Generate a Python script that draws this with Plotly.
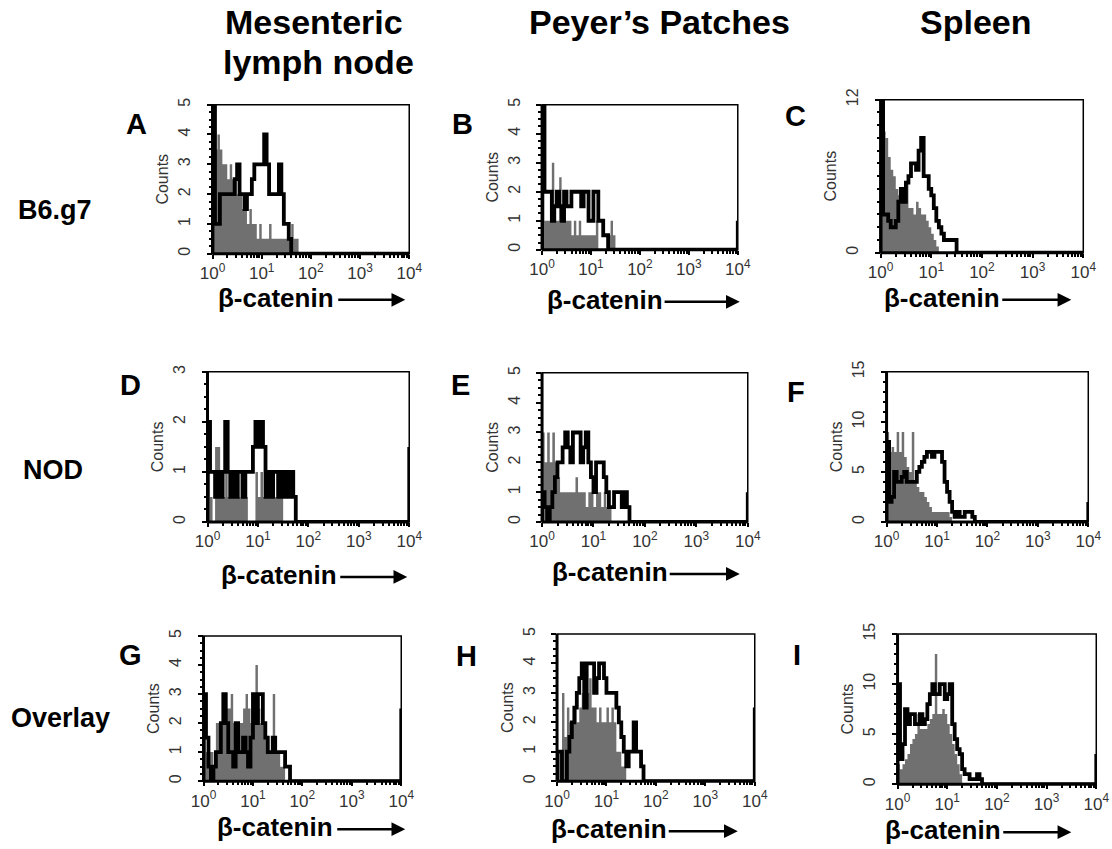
import numpy as np
import plotly.graph_objects as go

W, H = 1112, 849
BIN_DECADES = 0.05  # width of one histogram bin, in decades of fluorescence

# ---- histogram counts per bin, starting at 10^0 (gray = filled, black = outline) ----
A_gray = [4, 3.5, 4, 3.5, 3, 3, 2.5, 3, 2.5, 2.5, 2, 2, 1.5, 2, 1, 1.5, 1, 1, 0.5, 1, 0.5, 0.5,
          0.5, 1, 0.5, 0.5, 0.5, 0.5, 0.5, 0.5, 0.5, 0.5, 1, 0.5, 0.5]
A_black = [5, 1, 1, 2, 2, 2, 2, 2, 2, 2.5, 3, 2, 2, 1.5, 2, 2, 2.5, 3, 3, 3, 3, 4, 3, 2, 2, 2, 2,
           3, 2, 1, 1, 0.5]
B_gray = [3.5, 1, 1, 1, 3, 1, 1, 2.5, 1, 1, 1, 1, 0.5, 1, 0.5, 1, 0.5, 0.5, 0.5, 0.5, 0.5, 0.5,
          1, 0, 0, 0, 0, 0.5, 1, 0.5]
B_black = [5, 2, 2, 2, 1, 1.5, 2, 1.5, 1, 2, 1.5, 1.5, 2, 2, 2, 2, 1.5, 2, 2, 1, 1, 2, 2, 1, 1,
           0.5, 0.5]
C_gray = [10, 9.5, 9, 7.5, 6.5, 6, 5, 4.5, 4.5, 4, 5.5, 3.5, 3.5, 3, 4, 3.5, 3, 3, 2.5, 2, 1.5,
          1, 0.5]
C_black = [12, 3, 3, 2.5, 2, 2, 2.5, 4, 5, 4, 5.5, 6, 7, 7, 6.5, 8, 9, 6, 6, 5, 4.5, 3.5, 2.5,
           2, 1.5, 1, 1, 1, 1, 1]
D_gray = [1, 0.5, 0, 1.5, 1.5, 1, 0.5, 1, 0.5, 1, 0.5, 1, 0.5, 1, 1, 0.5, 0, 0, 0, 1, 0.5, 1,
          0.5, 1, 0.5, 0.5, 0.5, 0.5, 1, 0.5]
D_black = [2, 1, 1, 0.5, 1, 0.5, 1, 2, 1, 0.5, 1, 0.5, 1, 1, 0.5, 1, 1, 1, 1.5, 2, 1.5, 2, 1.5,
           0.5, 1, 0.5, 1, 1, 0.5, 1, 0.5, 1, 0.5, 1, 0.5]
E_gray = [3, 2, 3, 2, 3, 2, 1.5, 1, 1, 1, 1, 1, 1, 1.5, 1, 1, 1, 0.5, 1, 1, 0.5, 1, 1, 0.5, 1,
          0.5, 0.5]
E_black = [1, 0.5, 0, 0.5, 1, 1.5, 2, 2, 2.5, 3, 2.5, 2, 3, 3, 3, 2, 2.5, 3, 2, 1.5, 1, 2, 2, 2,
           1.5, 1, 0.5, 0.5, 1, 1, 1, 0.5, 1, 0.5]
F_gray = [9, 7, 7.5, 7, 9, 7, 9, 6.5, 5.5, 5, 9, 4, 3.5, 3, 3, 2.5, 2, 1.5, 1, 1, 1, 1, 1, 1, 1,
          0.5]
F_black = [8, 2, 2.5, 5, 4, 4, 4.5, 5, 4, 4, 4, 4, 5, 5.5, 6, 6.5, 7, 7, 6.5, 7, 7, 7, 6, 4, 3,
           2, 1, 0.5, 1, 0.5, 0.5, 1, 1, 1, 0.5]
G_gray = [1.5, 1, 1, 1, 0.5, 2, 2, 2, 2, 2.5, 2.5, 3, 2, 1.5, 2, 2, 2.5, 3, 2.5, 2, 2.5, 4, 2.5,
          2, 2, 1.5, 1, 1, 3, 1, 1, 0.5, 0.5]
G_black = [3, 1.5, 0.5, 0, 0.5, 1, 1, 2, 3, 2, 1, 1, 0.5, 2, 1, 1, 1.5, 1, 0.5, 1.5, 3, 2, 3, 3,
           2, 1.5, 1, 1, 1.5, 1, 1, 1, 1, 0.5, 0.5]
H_gray = [1, 1, 3, 1.5, 2.5, 2, 2, 2.5, 2, 2.5, 3, 2.5, 3, 3.5, 2.5, 2.5, 2, 2.5, 2, 2, 2.5, 2,
          2.5, 2, 1, 1, 0.5, 0.5]
H_black = [1, 1, 0, 0, 1, 1.5, 2, 2.5, 3, 3.5, 4, 2.5, 4, 4, 4, 3, 3.5, 4, 4, 3.5, 3, 3, 3, 3,
           2.5, 2, 1.5, 1, 0.5, 1, 1, 2, 1, 1, 0.5]
I_gray = [2, 1.5, 2, 2.5, 3, 4, 4.5, 5, 7, 5.5, 5.5, 5.5, 6, 6.5, 7, 13, 7, 7, 7.5, 7, 6, 5, 4,
          3, 2, 1]
I_black = [10, 2.5, 4, 7.5, 6, 7, 7, 6, 6, 7, 6, 6.5, 8, 9, 10, 9, 9, 10, 10, 8.5, 9, 10, 6, 4.5,
           3.5, 3, 1.5, 1, 1, 0.5, 0.5, 0.5, 1, 0.5]

# counts piled in the last channel (10^4)
EDGE_COUNTS = {"A": 0, "B": 1, "C": 0, "D": 1.5, "E": 1, "F": 2, "G": 2.5, "H": 2.5, "I": 3}
Y_MAX = {"A": 5, "B": 5, "C": 12, "D": 3, "E": 5, "F": 15, "G": 5, "H": 5, "I": 15}
Y_TICKS = {"A": [0, 1, 2, 3, 4, 5], "B": [0, 1, 2, 3, 4, 5], "C": [0, 12], "D": [0, 1, 2, 3],
           "E": [0, 1, 2, 3, 4, 5], "F": [0, 5, 10, 15], "G": [0, 1, 2, 3, 4, 5],
           "H": [0, 1, 2, 3, 4, 5], "I": [0, 5, 10, 15]}
X_TICKS = [1, 10, 100, 1000, 10000]
X_TICKTEXT = ["10<sup>0</sup>", "10<sup>1</sup>", "10<sup>2</sup>", "10<sup>3</sup>", "10<sup>4</sup>"]
COL_TITLES = ["Mesenteric", "lymph node", "Peyer\u2019s Patches", "Spleen"]
ROW_TITLES = ["B6.g7", "NOD", "Overlay"]
X_LABEL = "\u03b2-catenin"

SERIES = {"A": (A_gray, A_black), "B": (B_gray, B_black), "C": (C_gray, C_black),
          "D": (D_gray, D_black), "E": (E_gray, E_black), "F": (F_gray, F_black),
          "G": (G_gray, G_black), "H": (H_gray, H_black), "I": (I_gray, I_black)}

# ---- layout (target pixel boxes: left, top, right, bottom) ----
BOX = {"A": (212, 105, 409, 254), "B": (542, 105, 738, 250), "C": (881, 100, 1084, 253),
       "D": (207, 372, 409, 522), "E": (542, 373, 748, 522), "F": (887, 372, 1089, 522),
       "G": (203, 636, 401, 781), "H": (557, 634, 755, 781), "I": (898, 634, 1097, 784)}
LETTER_POS = {"A": (136, 124), "B": (462, 124), "C": (796, 116), "D": (130, 385),
              "E": (460, 385), "F": (796, 392), "G": (130, 655), "H": (466, 656), "I": (797, 655)}
XLABEL_POS = {"A": (276, 298, 338, 405), "B": (605, 300, 665, 740), "C": (943, 298, 1003, 1072),
              "D": (279, 575, 340, 407), "E": (610, 572, 670, 740),
              "G": (275, 827, 337, 405), "H": (609, 829, 669, 738), "I": (944, 830, 1004, 1072)}
COL_POS = [(314, 22), (318, 62), (660, 22), (976, 22)]
ROW_POS = [(54, 210), (52, 470), (60, 718)]

# the photographed page shows the figure slightly scaled/offset; map target pixels accordingly
SX, OX, SY, OY = 0.978, 12.2, 0.984, 11.4

FONT = "Liberation Sans, Arial, sans-serif"
GRAY = "#707070"


def px(x):
    return ((x - OX) / SX) / W


def py(y):
    return 1 - ((y - OY) / SY) / H


fig = go.Figure()
shapes = []
annotations = []


def steps(counts):
    edges = [10 ** (BIN_DECADES * i) for i in range(len(counts) + 1)]
    return [1.0] + edges, [0] + list(counts) + [0]


for k, name in enumerate("ABCDEFGHI"):
    idx = "" if k == 0 else str(k + 1)
    xa, ya = "x" + idx, "y" + idx
    gray, black = SERIES[name]

    gx, gy = steps(gray)
    fig.add_trace(go.Scatter(x=gx, y=gy, mode="lines", line=dict(width=0, shape="hv", color=GRAY),
                             fill="tozeroy", fillcolor=GRAY, xaxis=xa, yaxis=ya,
                             showlegend=False, hoverinfo="skip"))
    bx, by = steps(black)
    bx = bx + [10 ** 4]
    by = by + [EDGE_COUNTS[name]]
    fig.add_trace(go.Scatter(x=bx, y=by, mode="lines", line=dict(width=3.8, shape="hv", color="black"),
                             xaxis=xa, yaxis=ya, showlegend=False, hoverinfo="skip"))

    L, T, R, B = BOX[name]
    ymax = Y_MAX[name]
    minor_dy = 0.25 if ymax <= 5 else 1
    fig.update_layout(**{
        ("xaxis" + idx): dict(
            domain=[px(L), px(R)], anchor=ya, type="log", range=[0, 4],
            tickvals=X_TICKS, ticktext=X_TICKTEXT, ticks="outside", ticklen=4, tickwidth=1.5,
            tickcolor="black", showgrid=False, zeroline=False, showline=False,
            tickfont=dict(family=FONT, size=17, color="#333"),
            minor=dict(ticks="outside", ticklen=3, tickcolor="black", dtick="D1", showgrid=False),
            fixedrange=True),
        ("yaxis" + idx): dict(
            domain=[py(B), py(T)], anchor=xa, range=[0, ymax],
            tickvals=Y_TICKS[name], ticks="outside", ticklen=5, tickwidth=1.5, tickcolor="black",
            tickangle=-90, showgrid=False, zeroline=False, showline=False, ticklabelstandoff=10,
            tickfont=dict(family=FONT, size=16, color="#333"),
            minor=dict(ticks="outside", ticklen=3, tickcolor="black", dtick=minor_dy, showgrid=False),
            title=dict(text="Counts", font=dict(family=FONT, size=16, color="#333"), standoff=3),
            fixedrange=True),
    })
    xd, yd = xa + " domain", ya + " domain"
    shapes.append(dict(type="rect", xref=xd, yref=yd, x0=0, x1=1, y0=0, y1=1,
                       line=dict(color="black", width=1.5), layer="above"))
    shapes.append(dict(type="line", xref=xd, yref=yd, x0=0, x1=0, y0=0, y1=1,
                       line=dict(color="black", width=3), layer="above"))
    shapes.append(dict(type="line", xref=xd, yref=yd, x0=0, x1=1, y0=0, y1=0,
                       line=dict(color="black", width=3), layer="above"))

    lx, ly = LETTER_POS[name]
    annotations.append(dict(x=px(lx), y=py(ly), xref="paper", yref="paper", text="<b>%s</b>" % name,
                            xanchor="center", yanchor="middle", showarrow=False,
                            font=dict(family=FONT, size=29, color="black")))
    if name in XLABEL_POS:
        tx, ty, a0, a1 = XLABEL_POS[name]
        annotations.append(dict(x=px(tx), y=py(ty), xref="paper", yref="paper",
                                text="<b>%s</b>" % X_LABEL, showarrow=False,
                                xanchor="center", yanchor="middle",
                                font=dict(family=FONT, size=26, color="black")))
        annotations.append(dict(x=px(a1), y=py(ty + 2), xref="paper", yref="paper", text="",
                                showarrow=True, ax=-(a1 - a0) / SX, ay=0, arrowhead=2, arrowsize=1.1,
                                arrowwidth=2.5, arrowcolor="black"))

# column and row titles
for text, (cx, cy) in zip(COL_TITLES, COL_POS):
    annotations.append(dict(x=px(cx), y=py(cy), xref="paper", yref="paper", text="<b>%s</b>" % text,
                            xanchor="center", yanchor="middle", showarrow=False,
                            font=dict(family=FONT, size=34, color="black")))
for text, (cx, cy) in zip(ROW_TITLES, ROW_POS):
    annotations.append(dict(x=px(cx), y=py(cy), xref="paper", yref="paper", text="<b>%s</b>" % text,
                            xanchor="center", yanchor="middle", showarrow=False,
                            font=dict(family=FONT, size=27, color="black")))

fig.update_layout(width=W, height=H, margin=dict(l=0, r=0, t=0, b=0),
                  paper_bgcolor="white", plot_bgcolor="white",
                  shapes=shapes, annotations=annotations, showlegend=False)
fig.write_html("out.html", config={"displayModeBar": False},
               post_script="document.body.style.margin='0';document.body.style.overflow='hidden';")
